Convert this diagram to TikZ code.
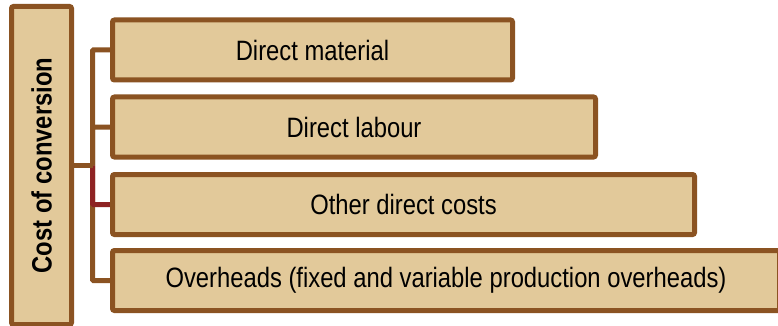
\documentclass[tikz,border=0pt]{standalone}
\usepackage{fontspec}
\setmainfont[FakeStretch=0.85]{Liberation Sans}
\usetikzlibrary{backgrounds}
\definecolor{boxfill}{HTML}{E2C99A}
\definecolor{boxline}{HTML}{8B5322}
\definecolor{redline}{HTML}{8E2323}
\tikzset{
  box/.style={draw=boxline, fill=boxfill, line width=5pt, rounded corners=2pt,
    minimum height=60pt, inner sep=0pt, text=black,
    font=\fontsize{28}{32}\selectfont},
  conn/.style={draw=boxline, line width=5pt, rounded corners=1pt},
  hot/.style={conn, draw=redline}
}
\begin{document}
\begin{tikzpicture}[x=1pt,y=-1pt]
\useasboundingbox (0,0) rectangle (778,326);
\node[box, minimum width=318pt, rotate=90, font=\fontsize{28}{32}\selectfont\bfseries] (cc) at (41.5,165.5) {Cost of conversion};
\node[box, minimum width=400pt] (b1) at (312.5,50) {Direct material};
\node[box, minimum width=483pt] (b2) at (354,127) {Direct labour};
\node[box, minimum width=582pt] (b3) at (403.5,204.5) {Other direct costs};
\node[box, minimum width=667pt] (b4) at (446,280.5) {Overheads (fixed and variable production overheads)};
\coordinate (j) at (92.5,165.5);
\begin{scope}[on background layer]
\draw[conn] (j) |- (b1.west);
\draw[conn] (j) |- (b2.west);
\draw[conn] (j) |- (b4.west);
\draw[hot] (j) |- (b3.west);
\draw[conn] (cc.south) -- (j);
\end{scope}
\end{tikzpicture}
\end{document}
